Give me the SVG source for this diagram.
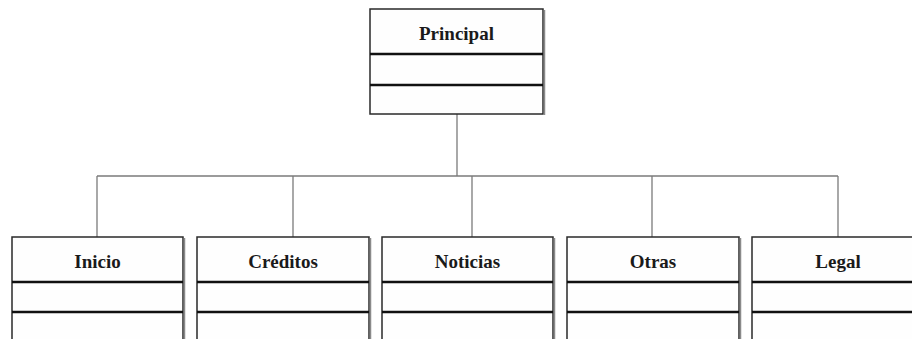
<svg xmlns="http://www.w3.org/2000/svg" width="912" height="339" viewBox="0 0 912 339">
<style>
.box{fill:#fefefe;stroke:#2a2a2a;stroke-width:1.5}
.shadow{stroke:#8a8a8a;stroke-width:1.5}
.div{stroke:#111;stroke-width:2.5}
.lbl{font-family:"Liberation Serif","Times New Roman",serif;font-weight:bold;font-size:19px;fill:#1a1a1a;text-anchor:middle}
.conn{stroke:#7a7a7a;stroke-width:1.3;fill:none}
</style>
<rect width="912" height="339" fill="#ffffff"/>
<g id="connectors">
<line class="conn" x1="457" y1="114" x2="457" y2="176"/>
<line class="conn" x1="97" y1="176" x2="838" y2="176"/>
<line class="conn" x1="97" y1="176" x2="97" y2="237"/>
<line class="conn" x1="293" y1="176" x2="293" y2="237"/>
<line class="conn" x1="472" y1="176" x2="472" y2="237"/>
<line class="conn" x1="652" y1="176" x2="652" y2="237"/>
<line class="conn" x1="838" y1="176" x2="838" y2="237"/>
</g>
<g id="principal">
<rect class="box" x="370" y="9" width="173" height="105"/>
<line class="shadow" x1="544.5" y1="10" x2="544.5" y2="115"/>
<line class="div" x1="370" y1="54" x2="543" y2="54"/>
<line class="div" x1="370" y1="85" x2="543" y2="85"/>
<text class="lbl" x="456.5" y="40">Principal</text>
</g>
<g id="inicio">
<rect class="box" x="12" y="237" width="171" height="120"/>
<line class="shadow" x1="184.5" y1="238" x2="184.5" y2="339"/>
<line class="div" x1="12" y1="282" x2="183" y2="282"/>
<line class="div" x1="12" y1="312" x2="183" y2="312"/>
<text class="lbl" x="97.5" y="268">Inicio</text>
</g>
<g id="creditos">
<rect class="box" x="197" y="237" width="172" height="120"/>
<line class="shadow" x1="370.5" y1="238" x2="370.5" y2="339"/>
<line class="div" x1="197" y1="282" x2="369" y2="282"/>
<line class="div" x1="197" y1="312" x2="369" y2="312"/>
<text class="lbl" x="283" y="268">Créditos</text>
</g>
<g id="noticias">
<rect class="box" x="382" y="237" width="171" height="120"/>
<line class="shadow" x1="554.5" y1="238" x2="554.5" y2="339"/>
<line class="div" x1="382" y1="282" x2="553" y2="282"/>
<line class="div" x1="382" y1="312" x2="553" y2="312"/>
<text class="lbl" x="467.5" y="268">Noticias</text>
</g>
<g id="otras">
<rect class="box" x="567" y="237" width="172" height="120"/>
<line class="shadow" x1="740.5" y1="238" x2="740.5" y2="339"/>
<line class="div" x1="567" y1="282" x2="739" y2="282"/>
<line class="div" x1="567" y1="312" x2="739" y2="312"/>
<text class="lbl" x="653" y="268">Otras</text>
</g>
<g id="legal">
<rect class="box" x="752" y="237" width="172" height="120"/>
<line class="div" x1="752" y1="282" x2="924" y2="282"/>
<line class="div" x1="752" y1="312" x2="924" y2="312"/>
<text class="lbl" x="838" y="268">Legal</text>
</g>
</svg>
